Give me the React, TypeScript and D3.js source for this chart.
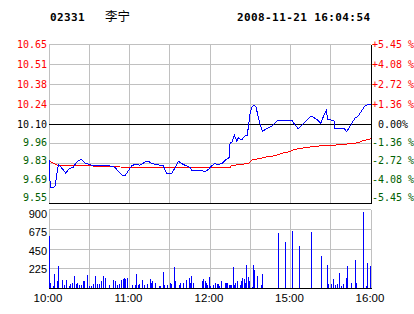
import React from 'react';
import * as d3 from 'd3';

const stockCode = '02331';
const stockName = '李宁';
const timestamp = '2008-11-21 16:04:54';
const prevClose = 10.1;

const priceLabels = ['10.65', '10.51', '10.38', '10.24', '10.10', '9.96', '9.83', '9.69', '9.55'];
const pctLabels = ['+5.45 %', '+4.08 %', '+2.72 %', '+1.36 %', ' 0.00%', '-1.36 %', '-2.72 %', '-4.08 %', '-5.45 %'];
const pctTicks = [5.45, 4.0875, 2.725, 1.3625, 0, -1.3625, -2.725, -4.0875, -5.45];
const volTicks = [900, 675, 450, 225];
const timeLabels = ['10:00', '11:00', '12:00', '15:00', '16:00'];
const timeLabelMinutes = [0, 60, 120, 180, 240];
const gridMinutes = [0, 30, 60, 90, 120, 150, 180, 210, 240];

// trading minutes from 10:00 (10:00-12:30, 14:30-16:00)
const priceMinutes = [0, 1, 3, 4.5, 7, 8, 10, 12.5, 15, 18, 21, 24, 27, 30, 34, 38, 40, 45.5, 49, 55, 56.6, 59, 61.6, 64, 67.8, 71.5, 74, 76.5, 80.3, 85.2, 87.7, 91.5, 94, 96.4, 100, 105, 106.4, 113.8, 116.3, 118.7, 121.3, 123.2, 126, 128.7, 131.2, 134.2, 135, 136.2, 138.1, 140, 141, 143.6, 146, 147.8, 148.5, 149.8, 151, 152.8, 154.3, 156, 157.8, 159, 162.3, 166, 169.7, 171, 181, 183.4, 185.8, 189.5, 195.3, 199.5, 202.7, 204.4, 207, 207.4, 212.4, 212.6, 220, 221.9, 225.6, 228, 230.5, 235.5, 238, 240];
const prices = [9.85, 9.66, 9.66, 9.67, 9.82, 9.81, 9.79, 9.76, 9.79, 9.8, 9.84, 9.855, 9.83, 9.82, 9.81, 9.815, 9.815, 9.81, 9.8, 9.74, 9.74, 9.775, 9.81, 9.82, 9.815, 9.836, 9.843, 9.825, 9.82, 9.81, 9.757, 9.757, 9.797, 9.843, 9.82, 9.8, 9.778, 9.778, 9.77, 9.785, 9.81, 9.825, 9.82, 9.825, 9.848, 9.867, 9.97, 9.97, 10.024, 9.98, 10.005, 9.99, 10.017, 10.02, 10.075, 10.167, 10.214, 10.232, 10.22, 10.144, 10.086, 10.05, 10.068, 10.086, 10.12, 10.126, 10.126, 10.093, 10.068, 10.103, 10.156, 10.133, 10.105, 10.15, 10.2, 10.13, 10.126, 10.068, 10.068, 10.047, 10.103, 10.14, 10.156, 10.226, 10.237, 10.237];

const avgMinutes = [0, 6, 8, 30, 60, 135, 136, 144, 149, 152, 155, 161, 168, 175, 180, 183, 191, 200, 213, 225, 230, 235, 240];
const avgPrices = [9.843, 9.815, 9.81, 9.81, 9.8, 9.8, 9.813, 9.82, 9.83, 9.855, 9.857, 9.87, 9.88, 9.9, 9.91, 9.924, 9.936, 9.947, 9.954, 9.964, 9.97, 9.987, 9.998];

const volMinutes = [0, 1, 3, 4, 6, 7, 10, 11, 13, 15, 16, 17, 19, 20, 21, 22, 24, 25, 26, 28, 30, 31, 33, 34, 36, 37, 39, 40, 42, 45, 48, 49, 51, 52, 54, 55, 56, 57, 58, 62, 64, 65, 66, 67, 69, 71, 73, 75, 76, 77, 79, 82, 83, 85, 86, 88, 90, 91, 93, 94, 97, 98, 100, 102, 104, 105, 106, 107, 114, 115, 116, 117, 118, 119, 120, 122, 124, 125, 126, 127, 128, 131, 132, 133, 134, 135, 136, 137, 138, 139, 140, 142, 143, 144, 145, 146, 147, 148, 149, 151, 152, 153, 155, 158, 159, 171, 176, 181, 186, 195, 203, 207, 208, 210, 212, 213, 215, 216, 218, 219, 221, 222, 225, 228, 229, 234, 236, 237, 239];
const volumes = [600, 57, 30, 160, 84, 255, 95, 38, 95, 30, 50, 65, 140, 50, 57, 38, 38, 91, 84, 152, 27, 27, 50, 140, 50, 50, 84, 140, 122, 38, 95, 84, 38, 50, 95, 106, 122, 106, 122, 38, 38, 163, 38, 50, 95, 38, 50, 106, 65, 84, 57, 27, 27, 190, 38, 38, 68, 50, 247, 87, 38, 57, 65, 95, 122, 68, 140, 68, 87, 106, 84, 57, 38, 133, 27, 38, 57, 50, 50, 27, 84, 57, 68, 57, 38, 45, 38, 243, 38, 65, 84, 38, 84, 114, 106, 68, 266, 129, 84, 20, 266, 209, 140, 38, 163, 631, 528, 654, 483, 643, 369, 266, 50, 50, 106, 38, 50, 182, 27, 50, 122, 255, 57, 323, 57, 867, 27, 285, 255];

const RED = '#ff0000';
const GREEN = '#006000';
const GRID = '#c0c0c0';
const BLUE = '#0000ff';
const MONO = '"DejaVu Sans Mono", monospace';
const SANS = '"Liberation Sans", Arial, sans-serif';

export default function App() {
  const L = 49, R = 371;
  const pTop = 44.5, pBot = 203.5;
  const vTop = 209.5, vBot = 288.5;
  const xs = d3.scaleLinear().domain([0, 240]).range([L, R]);
  const pct = d3.scaleLinear().domain([-5.45, 5.45]).range([pBot, pTop]);
  const ys = (p: number) => pct(((p - prevClose) / prevClose) * 100);
  const vs = d3.scaleLinear().domain([0, 900]).range([vBot, vTop]);
  const crisp = (v: number) => Math.round(v - 0.5) + 0.5;

  const priceLine = d3
    .line<number>()
    .x((_, i) => xs(priceMinutes[i]))
    .y((d) => ys(d))(prices);
  const avgLine = d3
    .line<number>()
    .x((_, i) => xs(avgMinutes[i]))
    .y((d) => ys(d))(avgPrices);

  const labelColor = (i: number) => (i < 4 ? RED : i === 4 ? '#000' : GREEN);

  return (
    <svg
      width={414}
      height={314}
      style={{ position: 'absolute', left: 0, top: 0, background: '#fff' }}
    >
      <rect x={0} y={0} width={414} height={314} fill="#fff" />
      {/* header */}
      <text x={50} y={21} fontFamily={MONO} fontWeight="bold" fontSize={11} letterSpacing={0.4} fill="#000">
        {stockCode}
      </text>
      <text x={105} y={21} fontFamily='"Noto Sans CJK SC", sans-serif' fontSize={12.5} fill="#000">
        {stockName}
      </text>
      <text x={237} y={21} fontFamily={MONO} fontWeight="bold" fontSize={11} letterSpacing={0.4} fill="#000">
        {timestamp}
      </text>

      {/* price grid */}
      <g shapeRendering="crispEdges">
        {gridMinutes.map((m, i) => (
          <line key={'pv' + i} x1={crisp(xs(m))} x2={crisp(xs(m))} y1={pTop} y2={pBot} stroke={GRID} />
        ))}
        {pctTicks.map((t, i) =>
          t === 0 || i === pctTicks.length - 1 ? null : (
            <line key={'ph' + i} x1={L} x2={R} y1={crisp(pct(t))} y2={crisp(pct(t))} stroke={GRID} />
          )
        )}
        <line x1={crisp(R)} x2={crisp(R)} y1={pTop} y2={pBot} stroke="#000" />
        <line x1={L} x2={R + 1} y1={crisp(pct(0))} y2={crisp(pct(0))} stroke="#000" />
        <line x1={L} x2={R + 1} y1={crisp(pBot)} y2={crisp(pBot)} stroke="#000" />
      </g>

      {/* volume grid */}
      <g shapeRendering="crispEdges">
        {gridMinutes.map((m, i) => (
          <line key={'vv' + i} x1={crisp(xs(m))} x2={crisp(xs(m))} y1={vTop} y2={vBot} stroke={GRID} />
        ))}
        {volTicks.map((t, i) => (
          <line key={'vh' + i} x1={L} x2={R} y1={crisp(vs(t))} y2={crisp(vs(t))} stroke={GRID} />
        ))}
      </g>

      {/* volume bars */}
      <g shapeRendering="crispEdges">
        {volumes.map((v, i) => {
          const x = Math.round(xs(volMinutes[i]));
          const y = Math.round(vs(v));
          return <rect key={'b' + i} x={x} y={y} width={1} height={Math.round(vBot) - y} fill={BLUE} />;
        })}
        <line x1={L} x2={R + 1} y1={crisp(vBot)} y2={crisp(vBot)} stroke="#000" />
      </g>

      {/* lines */}
      <path d={avgLine || ''} fill="none" stroke={RED} strokeWidth={1} shapeRendering="crispEdges" />
      <path d={priceLine || ''} fill="none" stroke={BLUE} strokeWidth={1} shapeRendering="crispEdges" />

      {/* price labels left */}
      {priceLabels.map((s, i) => {
        const c = pct(pctTicks[i]) - (i > 4 ? (i - 4) * 1.6 : 0);
        return (
          <text key={'pl' + i} x={47} y={c + 3.7} textAnchor="end" fontFamily={MONO} fontSize={10} fill={labelColor(i)}>
            {s}
          </text>
        );
      })}
      {/* pct labels right */}
      {pctLabels.map((s, i) => {
        const c = pct(pctTicks[i]) - (i > 4 ? (i - 4) * 1.6 : 0);
        return (
          <text
            key={'pr' + i}
            x={372}
            y={c + 3.7}
            fontFamily={MONO}
            fontSize={10}
            fill={labelColor(i)}
            style={{ whiteSpace: 'pre' }}
          >
            {s}
          </text>
        );
      })}

      {/* volume labels */}
      {volTicks.map((t, i) => (
        <text key={'vl' + i} x={47} y={vs(t) + 8 - i * 1.1} textAnchor="end" fontFamily={SANS} fontSize={11} fill="#000">
          {t}
        </text>
      ))}

      {/* time labels */}
      {timeLabels.map((s, i) => (
        <text key={'tl' + i} x={xs(timeLabelMinutes[i]) - 1} y={302} textAnchor="middle" fontFamily={SANS} fontSize={11.5} fill="#000">
          {s}
        </text>
      ))}
    </svg>
  );
}
